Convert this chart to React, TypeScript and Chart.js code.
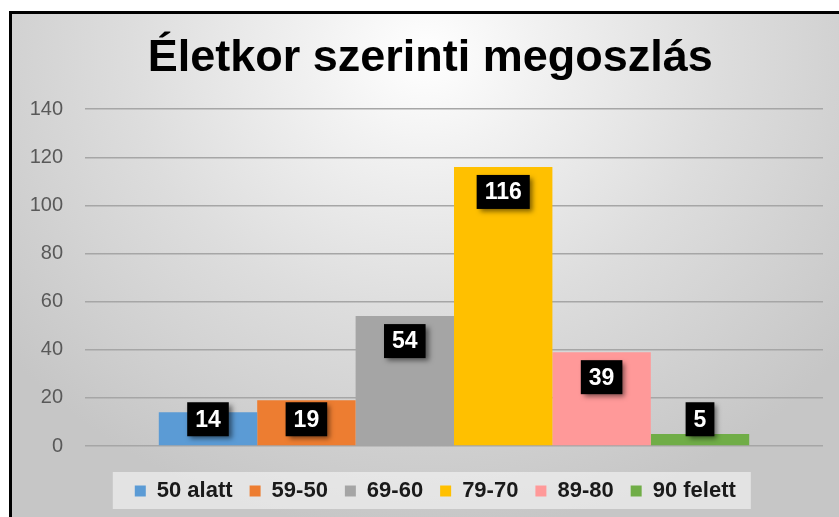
import React, { useEffect, useRef } from 'react';
import { Chart, registerables } from 'chart.js';

Chart.register(...registerables);

const titleText = 'Életkor szerinti megoszlás';
const categories = [''];
const seriesNames = ['50 alatt', '59-50', '69-60', '79-70', '89-80', '90 felett'];
const seriesValues = [14, 19, 54, 116, 39, 5];
const seriesColors = ['#5B9BD5', '#ED7D31', '#A5A5A5', '#FFC000', '#FF9999', '#70AD47'];
const yMin = 0;
const yMax = 140;
const yStep = 20;

const FONT = '"Liberation Sans", Arial, sans-serif';

const boxLabelPlugin = {
  id: 'boxLabels',
  afterLayout(chart: any) {
    const lg = chart.legend;
    if (lg) {
      lg.left += 9;
      lg.right += 9;
    }
    const tb = chart.titleBlock;
    if (tb) {
      tb.left += 4;
      tb.right += 4;
    }
  },
  beforeDraw(chart: any) {
    const lg = chart.legend;
    const hb = lg && lg.legendHitBoxes;
    if (!hb || !hb.length) return;
    const ctx = chart.ctx;
    const l = Math.min(...hb.map((h: any) => h.left)) - 22;
    const r = Math.max(...hb.map((h: any) => h.left + h.width)) + 15;
    const t = hb[0].top - 8;
    const b = hb[0].top + hb[0].height + 7;
    ctx.save();
    ctx.fillStyle = 'rgba(246,246,246,0.6)';
    ctx.fillRect(l, t, r - l, b - t);
    ctx.restore();
  },
  afterDatasetsDraw(chart: any) {
    const ctx = chart.ctx;
    ctx.save();
    ctx.font = `bold 23px ${FONT}`;
    chart.data.datasets.forEach((ds: any, i: number) => {
      const meta = chart.getDatasetMeta(i);
      meta.data.forEach((bar: any, j: number) => {
        const text = String(ds.data[j]);
        const tw = ctx.measureText(text).width;
        const w = tw + 16;
        const h = 34;
        const top = Math.min(bar.y + 8, bar.base - 9 - h);
        const left = bar.x - w / 2;
        ctx.shadowColor = 'rgba(0,0,0,0.5)';
        ctx.shadowBlur = 5;
        ctx.shadowOffsetX = 3;
        ctx.shadowOffsetY = 3;
        ctx.fillStyle = '#000';
        ctx.fillRect(left, top, w, h);
        ctx.shadowColor = 'rgba(0,0,0,0)';
        ctx.shadowBlur = 0;
        ctx.shadowOffsetX = 0;
        ctx.shadowOffsetY = 0;
        ctx.fillStyle = '#fff';
        ctx.textAlign = 'center';
        ctx.textBaseline = 'middle';
        ctx.fillText(text, bar.x, top + h / 2 + 1);
      });
    });
    ctx.restore();
  },
};

export default function App() {
  const canvasRef = useRef<HTMLCanvasElement | null>(null);

  useEffect(() => {
    if (!canvasRef.current) return;
    const chart = new Chart(canvasRef.current, {
      type: 'bar',
      data: {
        labels: categories,
        datasets: seriesNames.map((name, i) => ({
          label: name,
          data: [seriesValues[i]],
          backgroundColor: seriesColors[i],
          borderWidth: 0,
          barPercentage: 1,
          categoryPercentage: 0.8,
        })),
      },
      options: {
        animation: false,
        responsive: true,
        maintainAspectRatio: false,
        layout: { padding: { left: 17.6, right: 16, top: 0, bottom: 5 } },
        plugins: {
          title: {
            display: true,
            text: titleText,
            color: '#000',
            font: { family: FONT, size: 45, weight: 'bold' },
            padding: { top: 18, bottom: 23.2 },
          },
          legend: {
            display: true,
            position: 'bottom',
            labels: {
              boxWidth: 11,
              boxHeight: 11,
              padding: 17,
              color: '#1a1a1a',
              font: { family: FONT, size: 22, weight: 'bold' },
            },
          },
          tooltip: { enabled: false },
        },
        scales: {
          x: {
            display: true,
            grid: {
              display: true,
              drawOnChartArea: false,
              drawTicks: true,
              tickLength: 17,
              color: 'rgba(0,0,0,0)',
            },
            border: { display: false },
            ticks: { display: false },
          },
          y: {
            min: yMin,
            max: yMax,
            afterFit: (scale: any) => {
              scale.width = 55.4;
            },
            ticks: {
              stepSize: yStep,
              padding: 22,
              color: '#595959',
              font: { family: FONT, size: 20 },
            },
            grid: {
              color: '#a6a6a6',
              lineWidth: 1.5,
              drawTicks: false,
            },
            border: { display: false },
          },
        },
      },
      plugins: [boxLabelPlugin],
    } as any);
    return () => chart.destroy();
  }, []);

  return (
    <div
      style={{
        position: 'fixed',
        left: 0,
        top: 0,
        width: 839,
        height: 517,
        overflow: 'hidden',
        background: '#ffffff',
      }}
    >
      <div
        style={{
          position: 'absolute',
          left: 9,
          top: 11,
          width: 830,
          height: 506,
          boxSizing: 'border-box',
          borderLeft: '3px solid #000',
          borderTop: '3px solid #000',
          background:
            'radial-gradient(ellipse 65% 95% at 50% 8%, #ffffff 0%, #f2f2f2 20%, #dddddd 55%, #c6c6c6 100%)',
        }}
      >
        <div style={{ position: 'relative', width: 827, height: 503 }}>
          <canvas ref={canvasRef} />
        </div>
      </div>
    </div>
  );
}
